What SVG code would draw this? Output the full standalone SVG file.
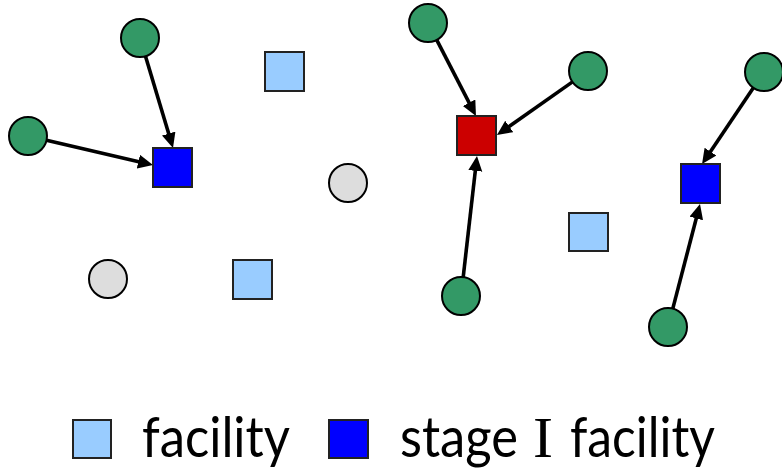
<svg xmlns="http://www.w3.org/2000/svg" width="782" height="469" viewBox="0 0 782 469">
<defs>
<marker id="arr" markerUnits="userSpaceOnUse" markerWidth="18" markerHeight="16" refX="7" refY="7" orient="auto">
<path d="M0,0 L15,7 L0,14 z" fill="#000"/>
</marker>
</defs>
<style>
.cust{fill:#339966;stroke:#000;stroke-width:2}
.inact{fill:#dddddd;stroke:#000;stroke-width:2}
.fac{fill:#99ccff;stroke:#222;stroke-width:2}
.st1{fill:#0000ff;stroke:#222;stroke-width:2}
.red{fill:#cc0000;stroke:#222;stroke-width:2}
.edge{stroke:#000;stroke-width:3.6;fill:none;marker-end:url(#arr)}
.lbl{font-family:"Lato","Liberation Sans",sans-serif;font-size:57px;fill:#000}
.ser{font-family:"Liberation Serif",serif}
</style>
<rect width="782" height="469" fill="#fff"/>
<g id="edges">
<line class="edge" x1="145.5" y1="56.2" x2="170.7" y2="140.3"/>
<line class="edge" x1="46.5" y1="140.3" x2="145.2" y2="163.2"/>
<line class="edge" x1="436.7" y1="39.9" x2="472.3" y2="108.9"/>
<line class="edge" x1="572.5" y1="81.9" x2="503.5" y2="130.4"/>
<line class="edge" x1="463.2" y1="277.1" x2="476.1" y2="163.9"/>
<line class="edge" x1="753.4" y1="87.8" x2="706.5" y2="157.4"/>
<line class="edge" x1="672.8" y1="308.6" x2="698" y2="211.7"/>
</g>
<g id="c1"><circle class="cust" cx="140" cy="38" r="19"/></g>
<g id="c2"><circle class="cust" cx="28" cy="136" r="19"/></g>
<g id="s1"><rect class="st1" x="153" y="148" width="39" height="39"/></g>
<g id="f1"><rect class="fac" x="265" y="52" width="39" height="39"/></g>
<g id="n1"><circle class="inact" cx="348" cy="183" r="19"/></g>
<g id="n2"><circle class="inact" cx="108" cy="279" r="19"/></g>
<g id="f2"><rect class="fac" x="233" y="260" width="39" height="39"/></g>
<g id="c3"><circle class="cust" cx="428" cy="23" r="19"/></g>
<g id="c4"><circle class="cust" cx="588" cy="71" r="19"/></g>
<g id="r1"><rect class="red" x="457" y="116" width="39" height="39"/></g>
<g id="c5"><circle class="cust" cx="461" cy="296" r="19"/></g>
<g id="f3"><rect class="fac" x="569" y="213" width="39" height="38"/></g>
<g id="c6"><circle class="cust" cx="764" cy="72" r="19"/></g>
<g id="s2"><rect class="st1" x="681" y="164" width="39" height="39"/></g>
<g id="c7"><circle class="cust" cx="668" cy="327" r="19"/></g>
<g id="legend">
<rect class="fac" x="73" y="420" width="38" height="38"/>
<text class="lbl" x="142" y="457" textLength="148" lengthAdjust="spacingAndGlyphs">facility</text>
<rect class="st1" x="329" y="420" width="39" height="38"/>
<text class="lbl" y="457"><tspan x="400" textLength="118" lengthAdjust="spacingAndGlyphs">stage</tspan> <tspan class="ser" x="533" textLength="20" lengthAdjust="spacingAndGlyphs">I</tspan> <tspan x="570" textLength="145" lengthAdjust="spacingAndGlyphs">facility</tspan></text>
</g>
</svg>
